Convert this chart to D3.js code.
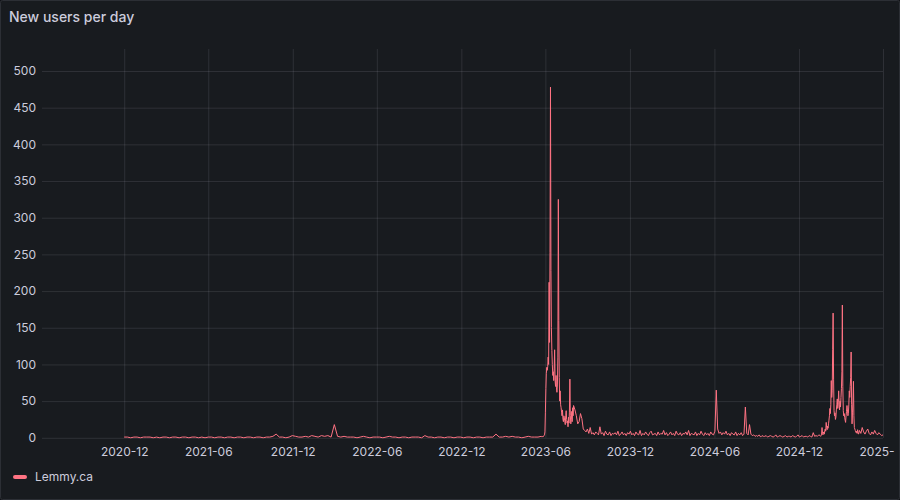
<!DOCTYPE html>
<html>
<head>
<meta charset="utf-8">
<script src="https://cdn.jsdelivr.net/npm/d3@7"></script>
<style>
  html, body { margin: 0; padding: 0; background: #111217; }
  svg { display: block; font-family: Inter, "Noto Sans", sans-serif; }
</style>
</head>
<body>
<svg id="chart" width="900" height="500"></svg>
<script>
// ---------------- DATA ----------------
const chartTitle = "New users per day";
const seriesName = "Lemmy.ca";
const yTickValues = [0, 50, 100, 150, 200, 250, 300, 350, 400, 450, 500];
const xTickMonths = ["2020-12", "2021-06", "2021-12", "2022-06", "2022-12", "2023-06", "2023-12", "2024-06", "2024-12", "2025-06"];
const xTickTexts = ["2020-12", "2021-06", "2021-12", "2022-06", "2022-12", "2023-06", "2023-12", "2024-06", "2024-12", "2025-"];

// weekly readings from 2020-12-01
const quietStart = "2020-12-01";
const quietStepDays = 7;
const quietValues = [
  1,1,0,1,1,0,1,1,1,0,
  1,0,1,1,0,1,1,0,1,1,
  0,1,1,0,1,0,1,1,0,1,
  1,0,1,1,0,1,1,0,1,1,
  0,1,1,0,1,1,2,5,1,1,
  0,1,3,2,1,1,2,1,3,2,
  1,3,2,3,1,18,2,1,2,1,
  1,1,0,1,2,1,0,1,1,1,
  0,1,2,1,1,0,1,1,0,1,
  1,1,0,3,1,1,0,1,1,0,
  1,1,0,1,1,0,1,1,0,1,
  1,0,1,1,1,5,1,1,2,1,
  2,1,1,0,1,2,1,1,1,2
];

// daily readings from 2023-05-24 (the surge)
const surgeStart = "2023-05-24";
const surgeStepDays = 1;
const surgeValues = [
  1,2,1,2,2,3,4,8,
  35,67,88,96,92,97,110,100,212,130,253,478,228,150,119,100,85,90,78,95,120,78,70,85,68,62,72,110,325,160,
  82,50,64,45,41,35,30,38,25,22,30,27,23,18,30,37,25,20,23,15,28,20,35,80,30,19,25,36,22,41,30
];

// readings every 3 days from 2023-08-01
const tailStart = "2023-08-01";
const tailStepDays = 3;
const tailValues = [
  44,38,30,19,22,33,26,12,10,8,
  12,6,14,5,7,4,8,6,4,15,
  5,7,3,9,5,4,8,3,6,5,
  7,4,9,3,5,8,4,6,3,7,
  5,9,4,6,3,8,5,4,10,3,
  6,4,8,5,3,7,9,4,5,6,
  3,8,4,6,5,10,4,7,3,5,
  8,4,6,3,9,5,4,7,3,6,
  5,8,4,10,3,6,5,4,8,3,
  6,4,9,5,3,7,4,6,3,8,
  5,4,9,65,12,6,8,4,7,5,
  9,4,6,3,7,5,4,8,3,6,
  4,7,3,5,42,6,4,18,5,3,
  4,2,3,2,4,1,3,2,2,3,
  1,2,3,2,1,2,4,1,2,3,
  2,1,2,3,1,2,2,1,3,2,
  1,2,4,1,2,3,1,2,2,1,
  3,2,1,7,2,3,2,4,3
];

// daily readings from 2025-01-17
const springStart = "2025-01-17";
const springStepDays = 1;
const springValues = [
  2,3,5,14,6,4,8,6,5,10,12,9,21,14,11,
  16,13,19,24,30,40,33,45,78,55,64,120,170,80,37,30,34,25,28,38,45,53,40,48,64,45,38,50,
  42,55,67,90,181,70,37,30,33,28,24,21,30,36,44,38,30,33,45,64,55,70,82,117,45,19,35,50,77,30,14,
  12,10,8,7,9,6,11,8,5,7
];

// readings every 3 days from 2025-04-11
const endStart = "2025-04-11";
const endStepDays = 3;
const endValues = [10,6,14,8,5,9,12,6,4,8,5,10,6,4,7,5,3,4];

// ---------------- BUILD ----------------
const parseDay = d3.utcParse("%Y-%m-%d");
const parseMonth = d3.utcParse("%Y-%m");
function segment(start, step, values) {
  const t0 = parseDay(start);
  return values.map((v, i) => ({ date: d3.utcDay.offset(t0, i * step), value: v }));
}
const data = [].concat(
  segment(quietStart, quietStepDays, quietValues),
  segment(surgeStart, surgeStepDays, surgeValues),
  segment(tailStart, tailStepDays, tailValues),
  segment(springStart, springStepDays, springValues),
  segment(endStart, endStepDays, endValues)
);

const W = 900, H = 500;
const plot = { left: 42, right: 883, top: 49, bottom: 437.8 };
const lineColor = "#ff7383";
const textColor = "#ccccdc";
const gridColor = "rgba(204,204,220,0.12)";

const svg = d3.select("#chart");
const defs = svg.append("defs");
defs.append("clipPath").attr("id", "plotClip")
  .append("rect").attr("x", plot.left).attr("y", plot.top - 2)
  .attr("width", plot.right - plot.left + 1).attr("height", plot.bottom - plot.top + 3);

// panel
svg.append("rect").attr("x", 0.5).attr("y", 0.5).attr("width", W - 1).attr("height", H - 1)
  .attr("rx", 2).attr("fill", "#181b1f").attr("stroke", "#2c2f35");

// title
svg.append("text").attr("x", 9).attr("y", 22)
  .attr("fill", textColor).attr("font-size", 14).attr("font-weight", 500)
  .text(chartTitle);

const x = d3.scaleUtc()
  .domain([parseDay("2020-06-06"), parseDay("2025-06-01")])
  .range([plot.left, plot.right]);
const y = d3.scaleLinear().domain([0, 530]).range([plot.bottom, plot.top]);

const xTicks = xTickMonths.map(parseMonth);
const g = svg.append("g");

// horizontal grid + y labels
const yAxis = d3.axisLeft(y).tickValues(yTickValues).tickSize(0).tickPadding(6).tickFormat(d3.format("d"));
const yG = g.append("g").attr("transform", `translate(${plot.left},0)`).call(yAxis);
yG.select(".domain").remove();
yG.selectAll("text").attr("fill", textColor).attr("font-size", 12).attr("font-family", "Inter, 'Noto Sans', sans-serif");

const yGrid = d3.axisLeft(y).tickValues(yTickValues).tickSize(-(plot.right - plot.left)).tickFormat("");
const yGridG = g.append("g").attr("transform", `translate(${plot.left},0)`).call(yGrid);
yGridG.select(".domain").remove();
yGridG.selectAll("line").attr("stroke", gridColor);

// vertical grid + x labels
const xGrid = d3.axisBottom(x).tickValues(xTicks).tickSize(-(plot.bottom - plot.top)).tickFormat("");
const xGridG = g.append("g").attr("transform", `translate(0,${plot.bottom})`).call(xGrid);
xGridG.select(".domain").remove();
xGridG.selectAll("line").attr("stroke", gridColor);

const xAxis = d3.axisBottom(x).tickValues(xTicks).tickSize(0).tickPadding(10)
  .tickFormat((d, i) => xTickTexts[i]);
const xG = g.append("g").attr("transform", `translate(0,${plot.bottom})`).call(xAxis);
xG.select(".domain").remove();
xG.selectAll("text").attr("fill", textColor).attr("font-size", 12).attr("font-family", "Inter, 'Noto Sans', sans-serif");
// last label sits where a full "YYYY-MM" label would begin (it is truncated at the panel edge)
xG.selectAll("text").filter((d, i) => i === xTicks.length - 1)
  .attr("text-anchor", "start").attr("x", -24);

// series line
const line = d3.line().x(d => x(d.date)).y(d => y(d.value));
g.append("g").attr("clip-path", "url(#plotClip)")
  .append("path").datum(data)
  .attr("fill", "none").attr("stroke", lineColor).attr("stroke-width", 1)
  .attr("stroke-linejoin", "round")
  .attr("d", line);

// legend
const legend = svg.append("g").attr("transform", "translate(13,477)");
legend.append("rect").attr("x", 0).attr("y", -2).attr("width", 14).attr("height", 4).attr("rx", 2)
  .attr("fill", lineColor);
legend.append("text").attr("x", 22).attr("y", 0).attr("dy", "0.35em")
  .attr("fill", textColor).attr("font-size", 12).text(seriesName);
</script>
</body>
</html>
